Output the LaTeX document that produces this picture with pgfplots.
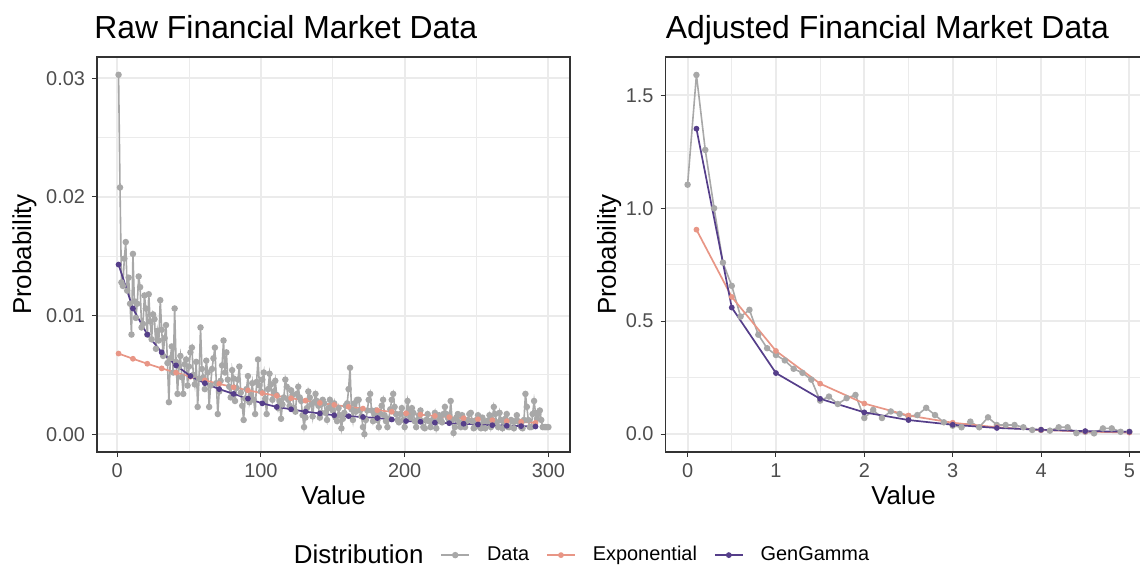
\documentclass[border=0pt]{standalone}
\usepackage{fontspec}
\setmainfont{Liberation Sans}
\usepackage{pgfplots}
\pgfplotsset{compat=1.18}

\definecolor{datagray}{RGB}{168,168,168}
\definecolor{exppink}{RGB}{232,150,134}
\definecolor{ggpurple}{RGB}{85,62,138}
\definecolor{gridcol}{RGB}{235,235,235}
\definecolor{bordercol}{RGB}{51,51,51}
\definecolor{tickcol}{RGB}{77,77,77}

\pgfplotsset{
  ggbase/.style={
    scale only axis,
    anchor=south west,
    axis line style={bordercol, line width=0.7bp},
    tick style={bordercol, line width=0.5bp},
    tick align=outside,
    major tick length=2.5bp,
    minor tick length=0pt,
    xtick pos=bottom, ytick pos=left,
    grid=both,
    major grid style={gridcol, line width=1bp},
    minor grid style={gridcol, line width=0.5bp},
    ticklabel style={font=\fontsize{10}{12}\selectfont, text=tickcol},
    label style={font=\fontsize{13}{15}\selectfont},
    every axis title/.style={font=\fontsize{16}{19}\selectfont, anchor=base west, at={(axis description cs:0,1)}, yshift=9bp, inner sep=0pt},
    /pgf/number format/assume math mode=true,
    scaled ticks=false,
    legend image code/.code={\draw[mark repeat=2,mark phase=2,#1] plot coordinates {(0bp,0bp) (7bp,0bp) (14bp,0bp)};},
  },
  datast/.style={datagray, line width=0.8bp, mark=*, mark size=1.2bp, mark options={solid, fill=datagray, draw=datagray}},
  expst/.style={exppink, line width=0.85bp, mark=*, mark size=1bp, mark options={solid, fill=exppink, draw=exppink}},
  ggst/.style={ggpurple, line width=0.85bp, mark=*, mark size=1bp, mark options={solid, fill=ggpurple, draw=ggpurple}},
}

\pgfplotstableread{
x y
1 .0303
2 .0208
3 .0128
4 .0125
5 .0148
6 .0162
7 .0121
8 .0132
9 .0110
10 .0084
11 .0152
12 .0112
13 .0098
14 .0110
15 .0133
16 .0124
17 .0090
18 .0093
19 .0117
20 .0106
21 .0084
22 .0118
23 .0095
24 .0080
25 .0101
26 .0097
27 .0072
28 .0087
29 .0079
30 .0113
31 .0088
32 .0066
33 .0081
34 .0092
35 .0060
36 .0027
37 .0064
38 .0074
39 .0052
40 .0106
41 .0061
42 .0034
43 .0057
44 .0066
45 .0048
46 .0034
47 .0059
48 .0063
49 .0041
50 .0057
51 .0069
52 .0073
53 .0050
54 .0042
55 .0061
56 .0023
57 .0047
58 .0090
59 .0055
60 .0048
61 .0038
62 .0062
63 .0052
64 .0023
65 .0041
66 .0055
67 .0064
68 .0073
69 .0043
70 .0017
71 .0036
72 .0045
73 .0058
74 .0079
75 .0052
76 .0069
77 .0046
78 .0040
79 .0031
80 .0054
81 .0047
82 .0028
83 .0039
84 .0046
85 .0057
86 .0035
87 .0024
88 .0012
89 .0030
90 .0038
91 .0049
92 .0027
93 .0033
94 .0043
95 .0029
96 .0017
97 .0044
98 .0063
99 .0041
100 .0036
101 .0046
102 .0052
103 .0030
104 .0017
105 .0038
106 .0051
107 .0042
108 .0029
109 .0036
110 .0045
111 .0033
112 .0022
113 .0028
114 .0013
115 .0025
116 .0031
117 .0046
118 .0040
119 .0029
120 .0024
121 .0037
122 .0033
123 .0022
124 .0019
125 .0034
126 .0040
127 .0031
128 .0028
129 .0016
130 .0006
131 .0014
132 .0022
133 .0036
134 .0031
135 .0025
136 .0015
137 .0027
138 .0034
139 .0028
140 .0024
141 .0014
142 .0018
143 .0029
144 .0026
145 .0018
146 .0012
147 .0022
148 .0029
149 .0023
150 .0020
151 .0026
152 .0014
153 .0011
154 .0022
155 .0016
156 .0005
157 .0013
158 .0018
159 .0024
160 .0026
161 .0038
162 .0056
163 .0021
164 .0012
165 .0026
166 .0019
167 .0029
168 .0029
169 .0020
170 .0015
171 .0006
172 .0000
173 .0012
174 .0020
175 .0029
176 .0034
177 .0020
178 .0011
179 .0017
180 .0020
181 .0012
182 .0006
183 .0017
184 .0024
185 .0029
186 .0016
187 .0011
188 .0006
189 .0013
190 .0021
191 .0029
192 .0034
193 .0023
194 .0017
195 .0012
196 .0010
197 .0017
198 .0022
199 .0012
200 .0006
201 .0017
202 .0028
203 .0020
204 .0014
205 .0022
206 .0018
207 .0011
208 .0006
209 .0012
210 .0016
211 .0020
212 .0011
213 .0006
214 .0005
215 .0012
216 .0017
217 .0011
218 .0006
219 .0011
220 .0013
221 .0018
222 .0005
223 .0011
224 .0016
225 .0012
226 .0010
227 .0017
228 .0023
229 .0017
230 .0014
231 .0011
232 .0028
233 .0012
234 .0001
235 .0006
236 .0014
237 .0017
238 .0010
239 .0006
240 .0016
241 .0012
242 .0006
243 .0011
244 .0012
245 .0017
246 .0018
247 .0011
248 .0005
249 .0006
250 .0012
251 .0016
252 .0008
253 .0005
254 .0014
255 .0011
256 .0005
257 .0011
258 .0011
259 .0016
260 .0006
261 .0012
262 .0023
263 .0017
264 .0010
265 .0006
266 .0018
267 .0012
268 .0005
269 .0011
270 .0013
271 .0017
272 .0006
273 .0006
274 .0012
275 .0011
276 .0005
277 .0011
278 .0016
279 .0011
280 .0010
281 .0006
282 .0005
283 .0012
284 .0034
285 .0023
286 .0012
287 .0006
288 .0006
289 .0017
290 .0028
291 .0018
292 .0013
293 .0017
294 .0020
295 .0012
296 .0006
297 .0006
298 .0006
299 .0006
300 .0006
}\rawdata

\begin{document}
\begin{tikzpicture}
\begin{axis}[ggbase,
  at={(48.5bp,57.5bp)}, width=236.5bp, height=197.5bp,
  xmin=-14, xmax=315, ymin=-0.0015, ymax=0.0318,
  xtick={0,100,200,300}, minor xtick={50,150,250},
  ytick={0,0.01,0.02,0.03}, yticklabels={0.00,0.01,0.02,0.03},
  minor ytick={0.005,0.015,0.025},
  title={Raw Financial Market Data},
  title style={xshift=-1.5bp},
  xlabel={Value}, ylabel={Probability},
  xlabel style={at={(axis description cs:0.5,-0.134)}, anchor=base},
  ylabel style={at={(axis description cs:-0.1395,0.5)}, anchor=base},
  legend columns=-1,
  legend style={at={(axis description cs:1.0064,-0.2886)}, anchor=south,
    draw=none, fill=none, inner sep=0pt, outer sep=0pt,
    font=\fontsize{10}{12}\selectfont,
    nodes={inner sep=0pt},
    /tikz/every odd column/.append style={column sep=8.5bp},
    /tikz/every even column/.append style={column sep=8.5bp}},
]
\addlegendimage{empty legend}
\addlegendentry{\fontsize{13}{15}\selectfont Distribution}
\addplot[datast] table[x=x, y=y] {\rawdata};
\addlegendentry{Data}
\addplot[expst] coordinates {
(1,0.00680) (11,0.00636) (21,0.00594) (31,0.00555) (41,0.00519) (51,0.00485) (61,0.00454) (71,0.00424)
(81,0.00396) (91,0.00370) (101,0.00346) (111,0.00324) (121,0.00303) (131,0.00283) (141,0.00264) (151,0.00247)
(161,0.00231) (171,0.00216) (181,0.00202) (191,0.00189) (201,0.00176) (211,0.00165) (221,0.00154) (231,0.00144)
(241,0.00135) (251,0.00126) (261,0.00118) (271,0.00110) (281,0.00103) (291,0.00096)
};
\addlegendentry{Exponential}
\addplot[ggst] coordinates {
(1,0.0143) (11,0.0106) (21,0.0084) (31,0.0069) (41,0.0058) (51,0.0049) (61,0.0043) (71,0.0038)
(81,0.0034) (91,0.0030) (101,0.0026) (111,0.0023) (121,0.0021) (131,0.0019) (141,0.00175) (151,0.0016)
(161,0.00152) (171,0.00145) (181,0.00136) (191,0.00124) (201,0.00111) (211,0.00105) (221,0.00097) (231,0.00093)
(241,0.00088) (251,0.00082) (261,0.00076) (271,0.00071) (281,0.00068) (291,0.00065)
};
\addlegendentry{GenGamma}
\end{axis}

\begin{axis}[ggbase,
  at={(332.75bp,57.5bp)}, width=243bp, height=197.5bp,
  xmin=-0.25, xmax=5.25, ymin=-0.0795, ymax=1.6695,
  xtick={0,1,2,3,4,5}, minor xtick={0.5,1.5,2.5,3.5,4.5},
  ytick={0,0.5,1,1.5}, yticklabels={0.0,0.5,1.0,1.5},
  minor ytick={0.25,0.75,1.25},
  title={Adjusted Financial Market Data},
  xlabel={Value}, ylabel={Probability},
  xlabel style={at={(axis description cs:0.4897,-0.134)}, anchor=base},
  ylabel style={at={(axis description cs:-0.102,0.5)}, anchor=base},
]
\addplot[datast] coordinates {
(0,1.104) (0.1,1.59) (0.2,1.258) (0.3,1.0) (0.4,0.759) (0.5,0.656) (0.6,0.52) (0.7,0.55)
(0.8,0.44) (0.9,0.38) (1.0,0.35) (1.1,0.326) (1.2,0.289) (1.3,0.271) (1.4,0.241) (1.5,0.148)
(1.6,0.166) (1.7,0.133) (1.8,0.159) (1.9,0.173) (2.0,0.071) (2.1,0.107) (2.2,0.071) (2.3,0.1)
(2.4,0.089) (2.5,0.079) (2.6,0.084) (2.7,0.116) (2.8,0.084) (2.9,0.052) (3.0,0.037) (3.1,0.03)
(3.2,0.055) (3.3,0.03) (3.4,0.074) (3.5,0.04) (3.6,0.04) (3.7,0.04) (3.8,0.03) (3.9,0.018)
(4.0,0.018) (4.1,0.015) (4.2,0.03) (4.3,0.03) (4.4,0.004) (4.5,0.01) (4.6,0.003) (4.7,0.025)
(4.8,0.025) (4.9,0.01) (5.0,0.01)
};
\addplot[expst] coordinates {
(0.1,0.905) (0.5,0.607) (1,0.368) (1.5,0.223) (2,0.135) (2.5,0.082) (3,0.050) (3.5,0.030)
(4,0.018) (4.5,0.011) (5,0.0067)
};
\addplot[ggst] coordinates {
(0.1,1.352) (0.5,0.56) (1,0.27) (1.5,0.156) (2,0.096) (2.5,0.062) (3,0.041) (3.5,0.027)
(4,0.019) (4.5,0.013) (5,0.010)
};
\end{axis}
\pgfresetboundingbox
\path[use as bounding box] (0,0) rectangle (570bp,283.5bp);
\end{tikzpicture}
\end{document}
